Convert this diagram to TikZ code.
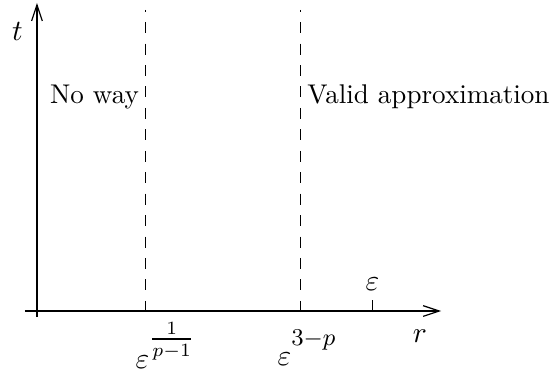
\documentclass[tikz,border=0pt]{standalone}
\usepackage{amsmath}
\usepackage{tikz}
\usetikzlibrary{arrows.meta,positioning}
\tikzset{
  axe/.style={-{Straight Barb[length=6pt,width=4pt]},line width=0.45pt},
  pointille/.style={line width=0.45pt,dash pattern=on 4.1pt off 3.9pt,dash phase=3.4pt},
  etiq/.style={inner sep=0pt,font=\fontsize{10.5}{13}\selectfont},
  texte/.style={inner sep=2.2pt,font=\fontsize{10.1}{13}\selectfont},
}

\begin{document}
\begin{tikzpicture}
  \useasboundingbox (-0.485,-0.813) rectangle (6.741,4.079);
  \coordinate (o) at (0,0);
  \coordinate (xmin) at (-0.16,0);
  \coordinate (xmax) at (5.30,0);
  \coordinate (ymin) at (0,-0.08);
  \coordinate (ymax) at (0,4.04);
  \coordinate (s1bas) at (1.42,0);
  \coordinate (s1haut) at (1.42,3.95);
  \coordinate (s2bas) at (3.46,0);
  \coordinate (s2haut) at (3.46,3.95);
  \coordinate (tbas) at (4.40,0);
  \coordinate (thaut) at (4.40,0.144);
  \draw[axe] (xmin) -- (xmax);
  \draw[axe] (ymin) -- (ymax);
  \draw[pointille] (s1haut) -- (s1bas);
  \draw[pointille] (s2haut) -- (s2bas);
  \draw[line width=0.45pt] (tbas) -- (thaut);
  \node[etiq,anchor=base] (lt) at (-0.256,3.554) {$t$};
  \node[etiq,anchor=base] (lr) at (5.02,-0.407) {$r$};
  \node[above=3.3pt of thaut,etiq] (leps) {$\varepsilon$};
  \node[texte,anchor=base east] (nonon) at (1.42,2.72) {No way};
  \node[texte,anchor=base west] (valide) at (3.46,2.72) {Valid approximation};
  \node[etiq,anchor=base west] (s1) at (1.285,-0.760) {$\varepsilon^{\raisebox{4.5pt}{$\tfrac{1}{p-1}$}}$};
  \node[etiq,anchor=base west] (s2) at (3.148,-0.715) {$\varepsilon$\raisebox{7.3pt}{\fontsize{8.6}{10}\selectfont$3\mathord{-}p$}};
\end{tikzpicture}
\end{document}
